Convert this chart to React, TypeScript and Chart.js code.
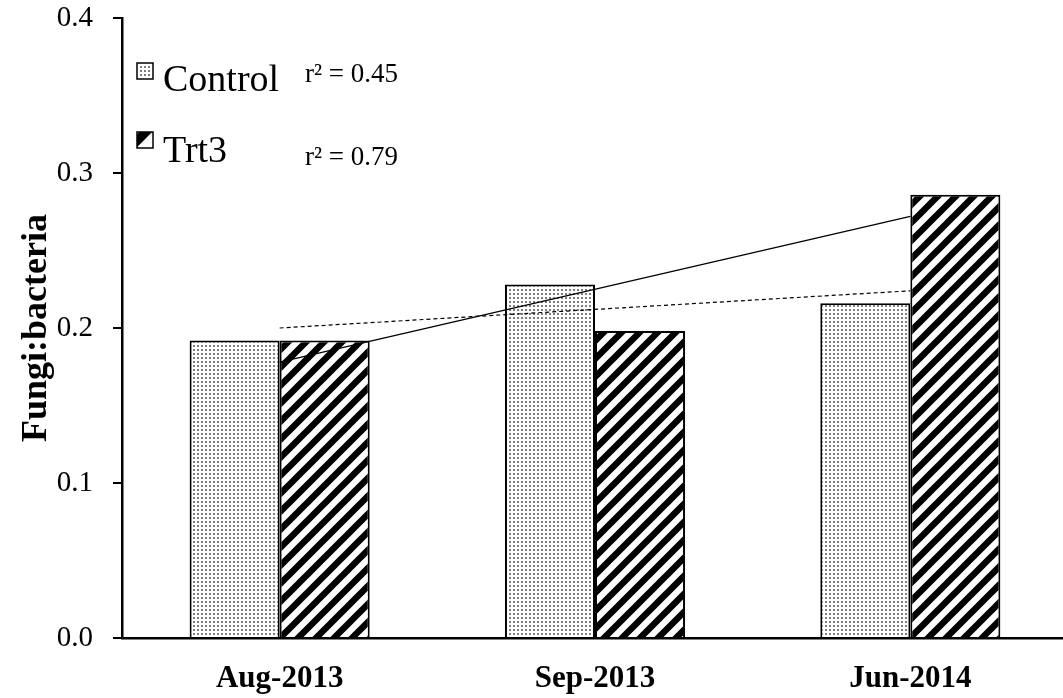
import React, { useEffect, useRef } from "react";
import { Chart, registerables } from "chart.js";

Chart.register(...registerables);

const categories = ["Aug-2013", "Sep-2013", "Jun-2014"];
const controlValues = [0.192, 0.228, 0.216];
const trt3Values = [0.192, 0.198, 0.286];
const controlTrend = [0.2, null, 0.224];
const trt3Trend = [0.178, null, 0.272];
const legendLabels = ["Control", "Trt3"];
const r2Labels = ["r\u00B2 = 0.45", "r\u00B2 = 0.79"];
const yTicks = [0, 0.1, 0.2, 0.3, 0.4];

const SERIF = "'Liberation Serif', 'Times New Roman', serif";

function makeDotPattern(): CanvasPattern | string {
  const c = document.createElement("canvas");
  c.width = 4;
  c.height = 4;
  const g = c.getContext("2d")!;
  g.fillStyle = "#ffffff";
  g.fillRect(0, 0, 4, 4);
  g.fillStyle = "#7e7e7e";
  g.fillRect(1, 1, 2, 2);
  return g.createPattern(c, "repeat") || "#ccc";
}

function makeStripePattern(): CanvasPattern | string {
  const s = 18;
  const c = document.createElement("canvas");
  c.width = s;
  c.height = s;
  const g = c.getContext("2d")!;
  g.fillStyle = "#ffffff";
  g.fillRect(0, 0, s, s);
  g.strokeStyle = "#000000";
  g.lineWidth = 6.5;
  g.beginPath();
  g.moveTo(-s, s);
  g.lineTo(s, -s);
  g.moveTo(-s, 2 * s);
  g.lineTo(2 * s, -s);
  g.moveTo(0, 2 * s);
  g.lineTo(2 * s, 0);
  g.stroke();
  return g.createPattern(c, "repeat") || "#000";
}

export default function App() {
  const ref = useRef<HTMLCanvasElement | null>(null);

  useEffect(() => {
    if (!ref.current) return;
    const dots = makeDotPattern();
    const stripes = makeStripePattern();

    const legendPlugin = {
      id: "customLegend",
      afterDraw(chart: any) {
        const ctx = chart.ctx as CanvasRenderingContext2D;
        ctx.save();
        const bx = 137, by1 = 63, by2 = 132, bs = 16;
        ctx.fillStyle = "#fff";
        ctx.fillRect(bx, by1, bs, bs);
        ctx.fillStyle = "#7e7e7e";
        for (let x = bx + 3; x < bx + bs - 2; x += 4) {
          for (let y = by1 + 3; y < by1 + bs - 2; y += 4) {
            ctx.fillRect(x, y, 2, 2);
          }
        }
        ctx.strokeStyle = "#000";
        ctx.lineWidth = 1.5;
        ctx.strokeRect(bx, by1, bs, bs);
        ctx.fillStyle = "#fff";
        ctx.fillRect(bx, by2, bs, bs);
        ctx.save();
        ctx.beginPath();
        ctx.rect(bx, by2, bs, bs);
        ctx.clip();
        ctx.fillStyle = "#000";
        ctx.beginPath();
        ctx.moveTo(bx + bs * 0.15, by2);
        ctx.lineTo(bx + bs * 0.95, by2);
        ctx.lineTo(bx, by2 + bs * 0.95);
        ctx.lineTo(bx, by2 + bs * 0.15);
        ctx.closePath();
        ctx.fill();
        ctx.restore();
        ctx.strokeRect(bx, by2, bs, bs);

        ctx.fillStyle = "#000";
        ctx.textAlign = "left";
        ctx.textBaseline = "alphabetic";
        ctx.font = `38px ${SERIF}`;
        ctx.fillText(legendLabels[0], 163, 91);
        ctx.fillText(legendLabels[1], 163, 162);
        ctx.font = `27px ${SERIF}`;
        ctx.fillText(r2Labels[0], 305, 82);
        ctx.fillText(r2Labels[1], 305, 165);
        ctx.restore();
      },
    };

    const chart = new Chart(ref.current, {
      type: "bar",
      data: {
        labels: categories,
        datasets: [
          {
            type: "line",
            label: "Trt3 trend",
            data: trt3Trend,
            borderColor: "#000",
            borderWidth: 1.3,
            pointRadius: 0,
            spanGaps: true,
            fill: false,
            order: 0,
          } as any,
          {
            type: "line",
            label: "Control trend",
            data: controlTrend,
            borderColor: "#000",
            borderWidth: 1.2,
            borderDash: [4, 3],
            pointRadius: 0,
            spanGaps: true,
            fill: false,
            order: 0,
          } as any,
          {
            type: "bar",
            label: legendLabels[0],
            data: controlValues,
            backgroundColor: dots as any,
            borderColor: "#000",
            borderWidth: 2,
            barPercentage: 1,
            categoryPercentage: 0.571,
            order: 1,
          },
          {
            type: "bar",
            label: legendLabels[1],
            data: trt3Values,
            backgroundColor: stripes as any,
            borderColor: "#000",
            borderWidth: 2,
            barPercentage: 1,
            categoryPercentage: 0.571,
            order: 1,
          },
        ],
      },
      options: {
        responsive: false,
        devicePixelRatio: 1,
        animation: false,
        layout: { padding: { top: 0, left: 0, right: 0, bottom: 0 } },
        plugins: {
          legend: { display: false },
          tooltip: { enabled: false },
        },
        scales: {
          x: {
            type: "category",
            offset: true,
            grid: { display: false, drawTicks: false },
            border: { display: true, color: "#000", width: 2.5 },
            ticks: {
              color: "#000",
              font: { family: SERIF, size: 31, weight: "bold" },
              padding: 22,
              maxRotation: 0,
            },
            afterFit: (scale: any) => {
              scale.height = 60;
              scale.paddingLeft = 0;
              scale.paddingRight = 0;
            },
          },
          y: {
            min: 0,
            max: 0.4,
            afterBuildTicks: (scale: any) => {
              scale.ticks = yTicks.map((v) => ({ value: v }));
            },
            ticks: {
              color: "#000",
              font: { family: SERIF, size: 29 },
              padding: 20,
              callback: (v: any) => Number(v).toFixed(1),
            },
            grid: {
              drawOnChartArea: false,
              drawTicks: true,
              tickLength: 9,
              color: "#000",
              lineWidth: 2,
            },
            border: { display: true, color: "#000", width: 2.5 },
            title: {
              display: true,
              text: "Fungi:bacteria",
              color: "#000",
              font: { family: SERIF, size: 36, weight: "bold" },
              padding: { top: 15, bottom: 0 },
            },
            afterFit: (scale: any) => {
              scale.width = 122;
              scale.paddingTop = 18;
              scale.paddingBottom = 0;
            },
          },
        },
      },
      plugins: [legendPlugin],
    });
    return () => chart.destroy();
  }, []);

  return (
    <div
      style={{
        position: "fixed",
        left: 0,
        top: 0,
        width: 1063,
        height: 698,
        overflow: "hidden",
        background: "#fff",
      }}
    >
      <canvas ref={ref} width={1068} height={698} style={{ display: "block" }} />
    </div>
  );
}
